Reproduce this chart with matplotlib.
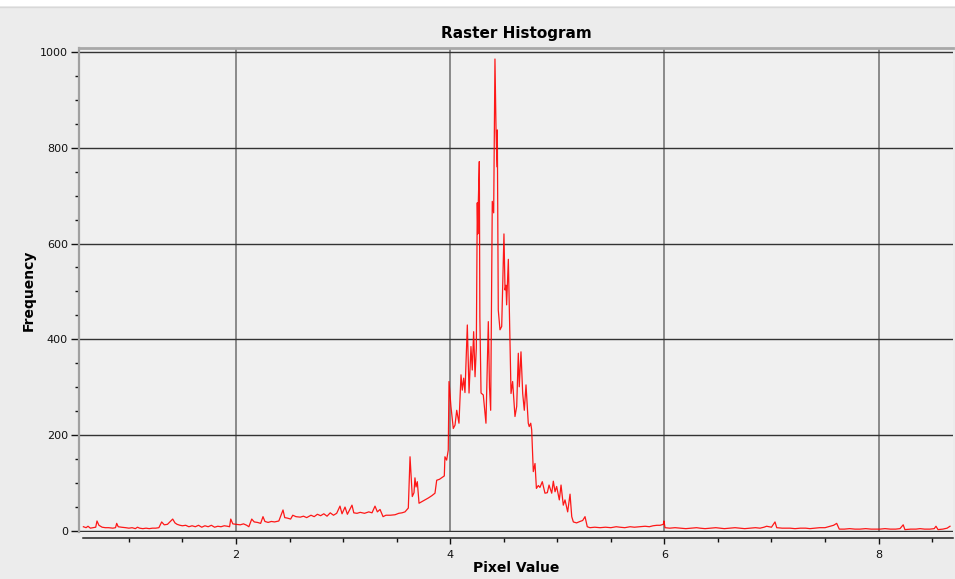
import matplotlib
matplotlib.use("Agg")
import matplotlib.pyplot as plt
from matplotlib.patches import Rectangle
from matplotlib.ticker import MultipleLocator

# ---- data ----
pixel_value = [
    0.575, 0.600, 0.618, 0.640, 0.665, 0.690, 0.702, 0.720, 0.750, 0.780,
    0.810, 0.850, 0.875, 0.886, 0.900, 0.930, 0.970, 1.000, 1.030, 1.060,
    1.080, 1.100, 1.130, 1.160, 1.190, 1.220, 1.250, 1.280, 1.306, 1.330,
    1.360, 1.409, 1.430, 1.450, 1.477, 1.500, 1.530, 1.560, 1.590, 1.620,
    1.650, 1.680, 1.710, 1.740, 1.770, 1.800, 1.830, 1.860, 1.890, 1.920,
    1.940, 1.951, 1.970, 2.000, 2.040, 2.070, 2.100, 2.120, 2.147, 2.170,
    2.200, 2.230, 2.252, 2.270, 2.300, 2.330, 2.360, 2.400, 2.439, 2.455,
    2.480, 2.510, 2.530, 2.560, 2.600, 2.630, 2.660, 2.700, 2.730, 2.760,
    2.790, 2.820, 2.850, 2.880, 2.910, 2.940, 2.971, 2.990, 3.018, 3.040,
    3.083, 3.100, 3.130, 3.160, 3.200, 3.240, 3.270, 3.298, 3.320, 3.345,
    3.373, 3.400, 3.440, 3.485, 3.520, 3.550, 3.578, 3.609, 3.625, 3.646,
    3.662, 3.671, 3.681, 3.693, 3.709, 3.740, 3.770, 3.796, 3.830, 3.858,
    3.874, 3.900, 3.945, 3.951, 3.967, 3.982, 3.989, 4.007, 4.029, 4.045,
    4.061, 4.082, 4.101, 4.113, 4.126, 4.138, 4.160, 4.176, 4.194, 4.206,
    4.219, 4.232, 4.244, 4.253, 4.258, 4.263, 4.272, 4.277, 4.288, 4.309,
    4.334, 4.356, 4.367, 4.378, 4.393, 4.406, 4.418, 4.428, 4.437, 4.440,
    4.449, 4.465, 4.481, 4.502, 4.512, 4.521, 4.527, 4.543, 4.558, 4.568,
    4.583, 4.605, 4.621, 4.636, 4.645, 4.661, 4.677, 4.692, 4.708, 4.729,
    4.738, 4.752, 4.761, 4.776, 4.792, 4.805, 4.823, 4.838, 4.860, 4.885,
    4.907, 4.923, 4.948, 4.963, 4.979, 4.994, 5.019, 5.035, 5.056, 5.072,
    5.097, 5.119, 5.135, 5.150, 5.180, 5.212, 5.237, 5.259, 5.280, 5.305,
    5.350, 5.399, 5.450, 5.500, 5.550, 5.585, 5.630, 5.680, 5.720, 5.772,
    5.820, 5.860, 5.894, 5.930, 5.960, 5.990, 5.996, 6.006, 6.050, 6.100,
    6.146, 6.200, 6.250, 6.300, 6.333, 6.380, 6.430, 6.480, 6.519, 6.560,
    6.610, 6.660, 6.706, 6.750, 6.800, 6.850, 6.893, 6.930, 6.955, 7.000,
    7.033, 7.049, 7.100, 7.173, 7.220, 7.270, 7.320, 7.359, 7.400, 7.450,
    7.500, 7.546, 7.580, 7.609, 7.633, 7.680, 7.730, 7.780, 7.826, 7.880,
    7.930, 7.980, 8.013, 8.060, 8.110, 8.160, 8.200, 8.230, 8.246, 8.300,
    8.350, 8.387, 8.430, 8.480, 8.520, 8.536, 8.555, 8.600, 8.640, 8.667,
]
frequency = [
    9, 7, 10, 6, 7, 8, 21, 12, 8, 7,
    7, 6, 7, 16, 9, 8, 7, 6, 7, 5,
    8, 6, 5, 6, 5, 6, 6, 7, 19, 13,
    14, 25, 17, 14, 12, 11, 12, 9, 11, 9,
    12, 8, 11, 9, 12, 8, 10, 9, 11, 10,
    9, 25, 15, 14, 13, 15, 12, 9, 25, 19,
    18, 16, 30, 20, 18, 20, 19, 21, 44, 28,
    27, 25, 33, 30, 29, 31, 28, 33, 30, 35,
    32, 36, 31, 38, 33, 37, 52, 36, 50, 35,
    54, 38, 37, 39, 37, 40, 38, 52, 40, 45,
    30, 33, 33, 34, 37, 38, 40, 48, 155, 72,
    80, 111, 92, 103, 58, 62, 66, 69, 74, 79,
    106, 108, 115, 155, 148, 169, 312, 260, 214, 221,
    252, 225, 326, 294, 319, 289, 430, 288, 385, 336,
    416, 322, 382, 685, 620, 690, 771, 447, 288, 284,
    225, 437, 300, 252, 688, 664, 985, 837, 760, 837,
    461, 420, 427, 620, 503, 513, 472, 567, 399, 287,
    312, 239, 260, 371, 301, 374, 287, 252, 305, 225,
    218, 225, 211, 124, 141, 89, 95, 91, 103, 79,
    80, 96, 79, 104, 82, 93, 65, 96, 54, 65,
    40, 77, 30, 19, 17, 20, 22, 30, 9, 7,
    8, 7, 8, 7, 9, 8, 7, 9, 8, 9,
    10, 9, 11, 12, 12, 14, 21, 7, 6, 7,
    6, 5, 6, 7, 6, 5, 6, 7, 6, 5,
    6, 7, 6, 5, 6, 7, 6, 8, 10, 8,
    19, 7, 6, 6, 5, 6, 6, 5, 6, 7,
    7, 10, 12, 16, 4, 4, 5, 4, 4, 5,
    4, 4, 4, 5, 4, 4, 5, 13, 3, 4,
    4, 5, 4, 4, 5, 10, 3, 4, 6, 10,
]

title = "Raster Histogram"
xlabel = "Pixel Value"
ylabel = "Frequency"

PX = 72 / 100  # points per pixel at dpi 100

# ---- figure ----
W, H = 955, 579
fig = plt.figure(figsize=(W / 100, H / 100), dpi=100)
fig.patch.set_facecolor("#ececec")
fig.patches.append(Rectangle((0, 1 - 6 / H), 1, 6 / H, transform=fig.transFigure,
                             facecolor="white", edgecolor="none", zorder=0))
fig.lines.append(plt.Line2D([0, 1], [1 - 6.5 / H, 1 - 6.5 / H], transform=fig.transFigure,
                            color="#d8d8d8", lw=1))

left, right, top, bottom = 79, 953, 48, 532
ax = fig.add_axes([left / W, (H - bottom) / H, (right - left) / W, (bottom - top) / H])
ax.set_facecolor("#f0f0f0")

ax.plot(pixel_value, frequency, color="#ff0000", lw=0.9, alpha=0.9, zorder=3)

ax.set_xlim(0.534, 8.695)
ax.set_ylim(-2, 1008)

ax.xaxis.set_major_locator(MultipleLocator(2))
ax.xaxis.set_minor_locator(MultipleLocator(0.5))
ax.yaxis.set_major_locator(MultipleLocator(200))
ax.yaxis.set_minor_locator(MultipleLocator(50))

ax.xaxis.grid(True, which="major", color="#6e6e6e", lw=1.1, zorder=1)
ax.yaxis.grid(True, which="major", color="#333333", lw=1.0, zorder=1)

for s in ("top", "right"):
    ax.spines[s].set_visible(False)
ax.spines["left"].set_color("#a0a0a0")
ax.spines["left"].set_linewidth(1.6)
ax.spines["bottom"].set_position(("outward", 6 * PX))
ax.spines["bottom"].set_bounds(0.57, 8.695)
ax.spines["bottom"].set_color("#222222")
ax.spines["bottom"].set_linewidth(1.1)
ax.plot([0, 1], [1, 1], transform=ax.transAxes, color="#a8a8a8", lw=2, clip_on=False, zorder=4)

ax.tick_params(axis="both", which="major", labelsize=8, colors="#111111", width=1)
ax.tick_params(axis="y", which="major", length=8 * PX, pad=3 * PX)
ax.tick_params(axis="y", which="minor", length=4 * PX, width=1, colors="#111111")
ax.tick_params(axis="x", which="major", length=6 * PX, pad=6 * PX)
ax.tick_params(axis="x", which="minor", length=4 * PX, width=1, colors="#111111")

ax.set_title(title, fontsize=11, fontweight="bold", pad=7)
ax.set_xlabel(xlabel, fontsize=10, fontweight="bold", labelpad=1)
ax.set_ylabel(ylabel, fontsize=10, fontweight="bold", labelpad=3)

fig.savefig("out.png", dpi=100, facecolor=fig.get_facecolor())
